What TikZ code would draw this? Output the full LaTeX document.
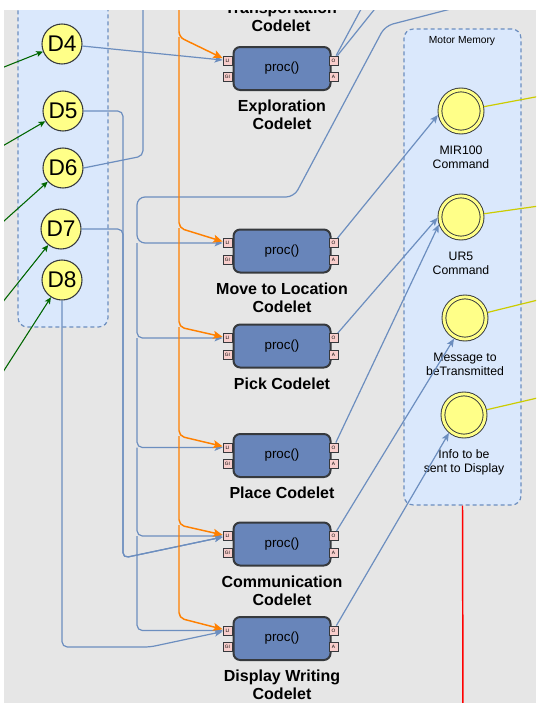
\documentclass[tikz,border=0pt]{standalone}
\usepackage{fontspec}
\setmainfont{Liberation Sans}
\usepackage{xcolor}
\usepackage{tikz}
\usetikzlibrary{arrows.meta,positioning}
\definecolor{canvasgray}{RGB}{230,230,230}
\definecolor{panelblue}{RGB}{218,232,252}
\definecolor{linkblue}{RGB}{108,142,191}
\definecolor{codeletfill}{RGB}{104,133,186}
\definecolor{codeletedge}{RGB}{54,57,61}
\definecolor{portpink}{RGB}{248,206,204}
\definecolor{datayellow}{RGB}{255,255,136}
\definecolor{sensegreen}{RGB}{0,102,0}
\definecolor{inputorange}{RGB}{255,128,0}
\definecolor{effectolive}{RGB}{204,204,0}
\tikzset{
  panelbox/.style={
    rectangle,
    rounded corners=7pt,
    draw=linkblue,
    fill=panelblue,
    line width=0.9pt,
    dash pattern=on 3pt off 2.25pt
  },
  codeletbox/.style={
    rectangle,
    rounded corners=5pt,
    draw=codeletedge,
    fill=codeletfill,
    line width=1.5pt,
    minimum width=72.75pt,
    minimum height=32.25pt,
    font=\fontsize{10}{12}\selectfont
  },
  portbox/.style={
    rectangle,
    draw=codeletedge,
    fill=portpink,
    line width=0.6pt,
    minimum size=6.75pt,
    inner sep=0pt,
    font=\fontsize{3.6}{4}\selectfont
  },
  codeletlabel/.style={
    align=center,
    inner sep=0.5pt,
    font=\fontsize{12}{13.5}\selectfont\bfseries
  },
  datanode/.style={
    circle,
    draw=codeletedge,
    fill=datayellow,
    line width=0.8pt,
    minimum size=30pt,
    inner sep=0pt,
    font=\fontsize{17}{18}\selectfont
  },
  memobject/.style={
    circle,
    draw=codeletedge,
    fill=datayellow,
    line width=0.7pt,
    double=datayellow,
    double distance=2.2pt,
    minimum size=31.6pt,
    inner sep=0pt,
    outer sep=1.8pt
  },
  memlabel/.style={
    align=center,
    inner sep=0.5pt,
    font=\fontsize{9.2}{10.5}\selectfont
  },
  linkarrow/.style={
    -{Stealth[length=6pt,width=5pt,inset=1.4pt]},
    draw=linkblue,
    line width=0.9pt,
    rounded corners=4pt
  },
  linkplain/.style={
    draw=linkblue,
    line width=0.9pt,
    rounded corners=4pt
  },
  sensearrow/.style={
    -{Stealth[length=5pt,width=4.5pt,inset=1.2pt]},
    draw=sensegreen,
    line width=0.8pt
  },
  inputarrow/.style={
    -{Stealth[length=7pt,width=6pt,inset=1.5pt]},
    draw=inputorange,
    line width=1.1pt,
    rounded corners=4pt
  },
  effectline/.style={
    draw=effectolive,
    line width=0.9pt
  },
  actionline/.style={
    draw=red,
    line width=1.1pt
  }
}

\begin{document}
\begin{tikzpicture}[x=0.75pt,y=-0.75pt]
\useasboundingbox (0,0) rectangle (536,703);
\fill[canvasgray] (4,10) rectangle (536,703);
\begin{scope}
\clip (4,10) rectangle (536,703);

% memories
\draw[panelbox] (18,-20) rectangle (108,327);
\node[panelbox, minimum width=87.75pt, minimum height=357pt] (motormem) at (462.5,267) {};
\node[font=\fontsize{7.7}{9}\selectfont] (motorlbl) at (462,41) {Motor Memory};

\node[datanode] (d4) at (62,44) {D4};
\node[datanode] (d5) at (63,111) {D5};
\node[datanode] (d6) at (63,168) {D6};
\node[datanode] (d7) at (61,229) {D7};
\node[datanode] (d8) at (62,280) {D8};

\node[memobject] (mir) at (461,111) {};
\node[memlabel, below=8pt of mir] (mirlbl) {MIR100\\Command};
\node[memobject] (ur5) at (461,217) {};
\node[memlabel, below=8pt of ur5] (ur5lbl) {UR5\\Command};
\node[memobject] (msg) at (465,318) {};
\node[memlabel, below=8pt of msg] (msglbl) {Message to\\beTransmitted};
\node[memobject] (info) at (464,415) {};
\node[memlabel, below=8pt of info] (infolbl) {Info to be\\sent to Display};

% codelets
\node[codeletlabel, anchor=south] (transplbl) at (281,33) {Transportation\\Codelet};
\node[codeletbox] (expl) at (282,68.5) {proc()};
\node[codeletlabel, below=6pt of expl] (expllbl) {Exploration\\Codelet};
\node[codeletbox] (moveloc) at (282,251) {proc()};
\node[codeletlabel, below=6pt of moveloc] (movelbl) {Move to Location\\Codelet};
\node[codeletbox] (pick) at (282,346) {proc()};
\node[codeletlabel, below=6pt of pick] (picklbl) {Pick Codelet};
\node[codeletbox] (place) at (282,455.5) {proc()};
\node[codeletlabel, below=6pt of place] (placelbl) {Place Codelet};
\node[codeletbox] (comm) at (282,544) {proc()};
\node[codeletlabel, below=6pt of comm] (commlbl) {Communication\\Codelet};
\node[codeletbox] (disp) at (282,638.5) {proc()};
\node[codeletlabel, below=6pt of disp] (displbl) {Display Writing\\Codelet};

\foreach \c in {expl,moveloc,pick,place,comm,disp}{
  \node[portbox] (\c-li) at ([shift={(-5,-8)}]\c.west) {LI};
  \node[portbox] (\c-gi) at ([shift={(-5,8.5)}]\c.west) {GI};
  \node[portbox] (\c-o) at ([shift={(2,-8)}]\c.east) {O};
  \node[portbox] (\c-a) at ([shift={(2,8.5)}]\c.east) {A};
}

% loose ends outside the view
\coordinate (s4) at (-6,71);
\coordinate (s5) at (-6,151);
\coordinate (s6) at (-6,230);
\coordinate (s7) at (-6,313);
\coordinate (s8) at (-6,386);
\coordinate (d6up) at (143,-15);
\coordinate (eoa) at (374,-15);
\coordinate (eob) at (394,-15);
\coordinate (busin) at (470,4);
\coordinate (busx) at (137,197);
\coordinate (osrc) at (179,-15);
\coordinate (mirout) at (546,95);
\coordinate (ur5out) at (546,205);
\coordinate (msgout) at (546,298);
\coordinate (infoout) at (546,396);
\coordinate (redend) at (463,715);

\draw[sensearrow] (s4) -- (d4);
\draw[sensearrow] (s5) -- (d5);
\draw[sensearrow] (s6) -- (d6);
\draw[sensearrow] (s7) -- (d7);
\draw[sensearrow] (s8) -- (d8);

\draw[linkarrow] (d4) -- (expl-li);
\draw[linkarrow] (d5.east) -- (123,111) -- (123,558) -- (comm-li);
\draw[linkarrow] (d7.east) -- (123,229) -- (123,558) -- (comm-li);
\draw[linkplain] (d6.east) -- (143,156) -- (d6up);
\draw[linkarrow] (d8.south) -- (62,647) -- (150,647) -- (disp-li);

\draw[linkarrow, rounded corners=6pt] (busin) -- (385,26) -- (294,197) -- (busx) -- (busx |- moveloc-li) -- (moveloc-li);
\draw[linkarrow] (busx |- moveloc-li) -- (busx |- pick-li) -- (pick-li);
\draw[linkarrow] (busx |- pick-li) -- (busx |- place-li) -- (place-li);
\draw[linkarrow] (busx |- place-li) -- (busx |- comm-li) -- (comm-li);
\draw[linkarrow] (busx |- comm-li) -- (busx |- disp-li) -- (disp-li);

\draw[inputarrow] (osrc) -- (179,37) -- (expl-li);
\draw[inputarrow] (179,37) -- (179,228) -- (moveloc-li);
\draw[inputarrow] (179,228) -- (179,327) -- (pick-li);
\draw[inputarrow] (179,327) -- (179,436) -- (place-li);
\draw[inputarrow] (179,436) -- (179,525) -- (comm-li);
\draw[inputarrow] (179,525) -- (179,618) -- (disp-li);

\draw[linkplain] (expl-o) -- (eoa);
\draw[linkplain] (expl-o) -- (eob);
\draw[linkarrow] (moveloc-o) -- (mir.190);
\draw[linkarrow] (pick-o) -- (ur5.182);
\draw[linkarrow] (place-o) -- (ur5.199);
\draw[linkarrow] (comm-o) -- (msg.242);
\draw[linkarrow] (disp-o) -- (info.230);

\draw[effectline] (mir) -- (mirout);
\draw[effectline] (ur5) -- (ur5out);
\draw[effectline] (msg) -- (msgout);
\draw[effectline] (info) -- (infoout);
\draw[actionline] (motormem.south) -- (redend);
\end{scope}
\end{tikzpicture}
\end{document}
